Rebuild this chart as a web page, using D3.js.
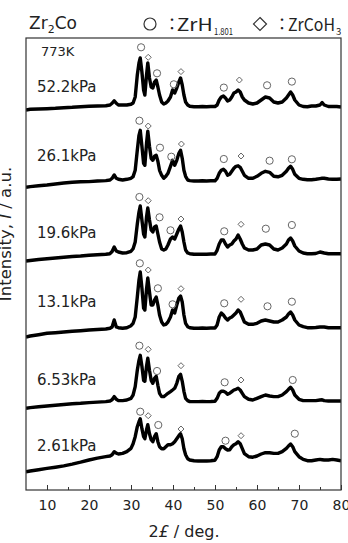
<!DOCTYPE html>
<html><head><meta charset="utf-8">
<script src="https://cdn.jsdelivr.net/npm/d3@7"></script>
<style>html,body{margin:0;padding:0;background:#fff;} svg{display:block;font-family:"DejaVu Sans",sans-serif;}</style>
</head><body><svg id="c" width="348" height="543"></svg>
<script>
// ---- data ----
const twoTheta = [5,6,8,10,12,14,16,18,20,22,24,
  25,25.5,26,26.5,27,
  28,29,30,30.5,31,31.5,
  31.9,32.2,32.6,33.0,33.3,33.7,34.0,34.4,34.8,35.2,35.6,36.0,36.4,36.8,
  37.3,37.8,38.3,38.8,39.4,39.9,40.4,40.9,41.4,41.8,42.2,42.6,43.0,43.5,
  44,45,46,47,48,49,50,
  50.5,51,51.5,52,52.5,53,53.5,54,54.5,55,55.5,56,56.5,57,
  58,59,60,61,62,63,64,65,66,67,
  67.5,68,68.5,69,70,
  71,72,73,74,75,75.5,76,77,78,79,80];
const seriesNames = ["52.2kPa","26.1kPa","19.6kPa","13.1kPa","6.53kPa","2.61kPa"];
const i522 = [0,0.7,1,1.3,1.7,2.3,2.7,3.3,3.7,4,4.3,
  5,6.7,9.3,6.7,5,
  5,5,5.7,7,13,35,
  47,52,38,20,15,35,47,32,23,22,28,30,23,15,
  8,6,7,9,13,20,17,22,28,32,25,15,8,5,
  3.7,3.3,3.3,3.5,3.3,3.5,3.5,
  5,10,13,14,12,9,10,13,17,18,20,18,13,10,
  7,6,7,10,13,12,8,7,8,12,
  15,18,15,10,5,
  3.5,3.3,4,4,5,7.5,5,3.5,3.5,3.5,3];
const i261 = [0,0.7,1.5,2.3,3.3,4.3,5,5.5,5.7,6.3,6.7,
  7.3,9,12.3,9,8,
  7.3,8,9,10.7,17,37,
  52,57,41,24,22,44,56,41,29,27,31,32,26,17,
  12,9,11,14,21,27,22,27,34,37,29,17,11,7.3,
  6.7,6.3,6.3,6.5,6.3,6.5,6.5,
  9,14,17,18,16,12,13,16,19,21,21.5,20,16,12,
  9,9,11,14,16,15,11,10.5,12,16,
  19,21,18,13,9,
  8,7.5,7.5,8,8.7,9,9,8.3,8,8,8.3];
const i196 = [0,0.5,1.5,2.3,3,3.7,4.5,5,5.7,6.3,6.7,
  7.3,9.5,14,10,9,
  8,8.3,9.7,12.3,19,37,
  49,55,41,27,24,44,53,41,31,29,34,35,27,19,
  12,11,12,16,22,24,22,27,32,35,29,19,11,8,
  7.3,6.7,6.7,6.8,6.7,7,7,
  10.7,17,21,21,17,14,16,17,20,22,26,22,17,13,
  11,11,12,16,17,16,12,11,13,17,
  21,23,20,15,10,
  8,7.3,7.3,7.5,9,8.5,8,7.3,7.3,7.3,7.3];
const i131 = [0,1,2.3,3.7,4.3,5,5.7,6.3,7,7.5,8,
  8.7,10,17,10,9.3,
  8.7,9.3,11.3,13.7,20,40,
  57,65,49,29,27,48,59,45,32,32,37,40,32,22,
  15,12,12.7,15,20,27,24,32,39,41,35,22,13.7,10.3,
  9.3,8.7,8.7,9,8.7,9,9,
  12,20,24,22,19,17,19,20,22,24,27,25,20,15,
  12.7,12.7,13.7,16,17,16,15,15,17,20,
  23,25,22,17,12,
  10.3,9.3,9.3,9.5,10,10,10,9.3,9.3,9.3,9.3];
const i653 = [0,0.7,1.5,2.3,3,3.8,4.5,5,5.7,6.2,6.7,
  7.3,8.5,11.7,9,7.7,
  7.7,8.3,10,13.3,21.7,38,
  48,53,42,28,27,42,50,38,28,25,30,32,23,15,
  11.7,11.7,13.3,15,16.7,18.3,20,25,32,34,27,17,10,7.7,
  6.7,6.7,6.7,6.8,6.7,6.8,7,
  10,15,17,17,16,14,15,16.7,18.3,19,20,18.3,15,11.7,
  9,8.3,10,11.7,13.3,12.3,11.7,11.7,13.3,16.7,
  19,21,18.3,13.3,9,
  7.7,7.7,7.7,7.7,8.3,8.5,7.7,7.3,7.3,7.3,7.3];
const i261k = [0,0.7,2,3.3,4.5,5.8,7.5,9.5,11.7,13.5,15,
  15.7,17,20,18.5,17.7,
  18.3,20,23.3,28,35,45,
  50,53,43,35,33,42,47,38,32,30,35,38,30,25,
  23,23,25,27,27,28,30,33,36,38,33,23,17,13,
  11.7,11,10.7,10.7,10.7,11,11.5,
  15,21.7,25,25,23,21.7,22,25,27,28,30,28,23,18,
  15,14.5,15.7,17.7,19,19,18.3,18.3,20,23.3,
  25.7,27.7,25,20,15,
  12.3,11,11,11.7,12.3,12,11.7,11.7,12.3,11.7,11];
const offsets = [380, 302.7, 229, 153, 81.7, 18.3];
// peak markers: [2θ, intensity above own baseline, phase]  c = ZrH1.801, d = ZrCoH3
const m522 = [[32.4,62.7,"c"],[34.1,52.7,"d"],[36.2,36.7,"c"],[40.2,25.7,"c"],[41.9,38.4,"d"],[52.1,22.4,"c"],[55.8,30,"d"],[62.4,24.7,"c"],[68.3,28.4,"c"]];
const m261 = [[32.0,66.6,"c"],[34.1,61.3,"d"],[36.9,39.6,"c"],[39.6,30.6,"c"],[42.0,43.3,"d"],[52.1,28.3,"c"],[56.2,31.3,"d"],[63.0,26.6,"c"],[68.3,28,"c"]];
const m196 = [[32.0,64,"c"],[34.1,60.3,"d"],[36.8,43.7,"c"],[39.4,30.7,"c"],[41.9,42,"d"],[52.2,29.7,"c"],[56.2,36.7,"d"],[62.1,32.3,"c"],[68.3,36,"c"]];
const m131 = [[32.1,73.7,"c"],[34.1,67,"d"],[36.4,48.7,"c"],[39.9,32.7,"c"],[41.9,48.3,"d"],[52.2,33.7,"c"],[56.2,37.7,"d"],[62.5,30.7,"c"],[68.3,35.3,"c"]];
const m653 = [[32.0,62.6,"c"],[34.1,59,"d"],[36.2,37.3,"c"],[41.9,42.6,"d"],[52.3,26,"c"],[56.2,28.3,"d"],[68.5,28.3,"c"]];
const m261k = [[32.2,60,"c"],[34.1,56,"d"],[36.5,46.7,"c"],[41.9,42.7,"d"],[52.5,31,"c"],[56.2,36,"d"],[69.0,38,"c"]];
const majorTicks = [10,20,30,40,50,60,70,80];
const minorTicks = [15,25,35,45,55,65,75];

const series = [i522,i261,i196,i131,i653,i261k];
const markers = [m522,m261,m196,m131,m653,m261k];

// ---- layout ----
const m = {left:26, right:341, top:38, bottom:490};
const labelLift = [18, 26, 23, 30, 23.3, 20.7];
const x = d3.scaleLinear().domain([5,80]).range([m.left,m.right]);
const y = d3.scaleLinear().domain([0,452]).range([m.bottom,m.top]);
const svg = d3.select("#c");

svg.append("clipPath").attr("id","clip").append("rect")
  .attr("x",m.left).attr("y",m.top).attr("width",m.right-m.left).attr("height",m.bottom-m.top);

const line = d3.line().x(d=>x(d[0])).y(d=>y(d[1]));
const plot = svg.append("g").attr("clip-path","url(#clip)");
series.forEach((s,i)=>{
  const pts = twoTheta.map((t,j)=>[t, s[j]+offsets[i]]);
  plot.append("path").attr("d",line(pts)).attr("fill","none")
    .attr("stroke","#000").attr("stroke-width",3.4).attr("stroke-linejoin","round");
});

markers.forEach((ms,i)=>{
  ms.forEach(([t,h,k])=>{
    const cx = x(t), cy = y(h+offsets[i]);
    if (k==="c") {
      plot.append("circle").attr("cx",cx).attr("cy",cy).attr("r",3.6)
        .attr("fill","none").attr("stroke","#666").attr("stroke-width",1);
    } else {
      const s = 3;
      plot.append("path").attr("d",`M${cx},${cy-s}L${cx+s},${cy}L${cx},${cy+s}L${cx-s},${cy}Z`)
        .attr("fill","none").attr("stroke","#666").attr("stroke-width",1);
    }
  });
});

// series labels
seriesNames.forEach((n,i)=>{
  svg.append("text").attr("x",x(7.6)).attr("y",y(offsets[i]+labelLift[i]))
    .attr("font-size",15).attr("fill","#222").text(n);
});
svg.append("text").attr("x",41).attr("y",56).attr("font-size",13).attr("fill","#222").text("773K");

// frame
svg.append("rect").attr("x",m.left).attr("y",m.top).attr("width",m.right-m.left).attr("height",m.bottom-m.top)
  .attr("fill","none").attr("stroke","#333").attr("stroke-width",1.2);

// axes
const gx = svg.append("g").attr("transform",`translate(0,${m.bottom})`)
  .call(d3.axisBottom(x).tickValues(majorTicks).tickSizeInner(-5).tickSizeOuter(0).tickPadding(10));
gx.select(".domain").remove();
gx.selectAll("line").attr("stroke","#333");
gx.selectAll("text").attr("font-size",14).attr("fill","#222").attr("font-family","DejaVu Sans, sans-serif");
const gm = svg.append("g").attr("transform",`translate(0,${m.bottom})`)
  .call(d3.axisBottom(x).tickValues(minorTicks).tickSizeInner(-3).tickSizeOuter(0).tickFormat(""));
gm.select(".domain").remove();
gm.selectAll("line").attr("stroke","#333");

// axis titles
const xt = svg.append("text").attr("x",184).attr("y",537).attr("text-anchor","middle").attr("font-size",16).attr("fill","#222");
xt.append("tspan").text("2");
xt.append("tspan").attr("font-style","italic").text("£");
xt.append("tspan").text(" / deg.");
const yt = svg.append("text").attr("transform","translate(11,234) rotate(-90)").attr("text-anchor","middle")
  .attr("font-size",16.5).attr("fill","#222");
yt.append("tspan").text("Intensity, ");
yt.append("tspan").attr("font-style","italic").text("I");
yt.append("tspan").text(" / a.u.");

// title
const tt = svg.append("text").attr("x",29).attr("y",28.5).attr("font-size",17).attr("fill","#222");
tt.append("tspan").text("Zr");
tt.append("tspan").attr("font-size",11).attr("dy",4).text("2");
tt.append("tspan").attr("dy",-4).text("Co");

// legend
svg.append("circle").attr("cx",150).attr("cy",24).attr("r",6).attr("fill","none").attr("stroke","#333").attr("stroke-width",1.2);
svg.append("path").attr("d","M260,17.5L266.5,24L260,30.5L253.5,24Z").attr("fill","none").attr("stroke","#333").attr("stroke-width",1.2);
const lf = "'Noto Sans CJK JP', 'DejaVu Sans', sans-serif";
svg.append("text").attr("x",164).attr("y",30).attr("font-size",16).attr("font-family",lf).attr("fill","#222").text("：");
svg.append("text").attr("x",176.7).attr("y",30.5).attr("font-size",17).attr("font-family",lf).attr("fill","#222")
  .attr("textLength",36).attr("lengthAdjust","spacingAndGlyphs").text("ZrH");
svg.append("text").attr("x",214).attr("y",34.5).attr("font-size",9.5).attr("font-family",lf).attr("fill","#222")
  .attr("textLength",19).attr("lengthAdjust","spacingAndGlyphs").text("1.801");
svg.append("text").attr("x",274).attr("y",30).attr("font-size",16).attr("font-family",lf).attr("fill","#222").text("：");
svg.append("text").attr("x",288).attr("y",30.5).attr("font-size",17).attr("font-family",lf).attr("fill","#222")
  .attr("textLength",47).attr("lengthAdjust","spacingAndGlyphs").text("ZrCoH");
svg.append("text").attr("x",336).attr("y",35).attr("font-size",9.5).attr("font-family",lf).attr("fill","#222").text("3");
</script></body></html>
